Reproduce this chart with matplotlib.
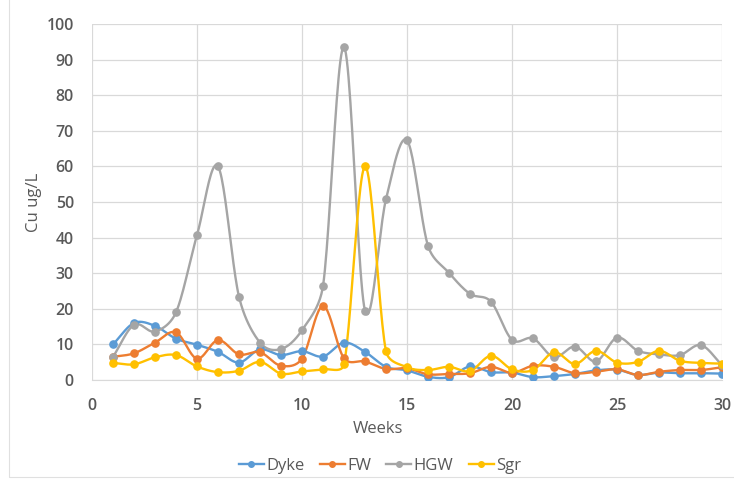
import numpy as np
import matplotlib
matplotlib.use("Agg")
import matplotlib.pyplot as plt
from matplotlib.patches import Rectangle

weeks = list(range(1, 31))
dyke = [10, 16, 15.2, 11.6, 9.9, 7.9, 4.9, 8.6, 7.0, 8.1, 6.6, 10.5, 7.9, 3.7, 2.7, 0.9, 0.8, 3.8, 2.2, 2.1,
        0.8, 1.1, 1.7, 2.7, 2.9, 1.4, 2.1, 1.9, 1.9, 1.8]
fw = [6.5, 7.5, 10.5, 13.4, 6.0, 11.2, 7.2, 7.8, 4.0, 6.0, 20.8, 6.1, 5.2, 3.1, 3.3, 1.6, 1.7, 1.9, 3.7, 2.0,
      4.0, 3.7, 1.9, 2.3, 3.0, 1.4, 2.3, 2.8, 2.8, 3.6]
hgw = [6.5, 15.5, 13.6, 19.0, 40.7, 60.0, 23.4, 10.5, 8.7, 14.0, 26.4, 93.5, 19.5, 50.8, 67.3, 37.7, 30.1, 24.2, 22.0, 11.3,
       11.7, 6.4, 9.4, 5.2, 11.9, 8.2, 7.2, 7.0, 9.8, 4.2]
sgr = [4.8, 4.4, 6.4, 7.0, 3.8, 2.2, 2.6, 5.1, 1.8, 2.4, 3.0, 4.4, 60.0, 8.1, 3.6, 2.8, 3.7, 2.5, 6.8, 3.0,
       2.8, 7.8, 4.5, 8.2, 4.9, 5.1, 8.2, 5.4, 4.8, 4.6]

series = [("Dyke", dyke, "#5B9BD5"), ("FW", fw, "#ED7D31"), ("HGW", hgw, "#A5A5A5"), ("Sgr", sgr, "#FFC000")]

LEFT, RIGHT, TOP, BOTTOM = 92, 722, 24, 380
SX, SY = (RIGHT - LEFT) / 30, (BOTTOM - TOP) / 100


def clamp(v, lim):
    n = np.hypot(*v)
    return v if n <= lim or n == 0 else v * (lim / n)


def smooth(x, y, n=24, k=0.45):
    P = np.column_stack([np.asarray(x, float) * SX, np.asarray(y, float) * SY])
    m = len(P)
    T = np.zeros_like(P)
    for i in range(m):
        if i == 0:
            T[i] = (P[1] - P[0]) / 3
        elif i == m - 1:
            T[i] = (P[-1] - P[-2]) / 3
        else:
            T[i] = (P[i + 1] - P[i - 1]) / 6
    t = np.linspace(0, 1, n)[:, None]
    out = []
    for i in range(m - 1):
        p1, p2 = P[i], P[i + 1]
        L = np.hypot(*(p2 - p1))
        c1 = p1 + clamp(T[i], k * L)
        c2 = p2 - clamp(T[i + 1], k * L)
        b = (1 - t) ** 3 * p1 + 3 * (1 - t) ** 2 * t * c1 + 3 * (1 - t) * t ** 2 * c2 + t ** 3 * p2
        out.append(b if i == 0 else b[1:])
    out = np.vstack(out)
    return out[:, 0] / SX, out[:, 1] / SY


plt.rcParams['font.family'] = ['Open Sans', 'DejaVu Sans']
fig = plt.figure(figsize=(7.34, 4.82), dpi=100)
ax = fig.add_axes([LEFT / 734, 1 - BOTTOM / 482, (RIGHT - LEFT) / 734, (BOTTOM - TOP) / 482])

txt = "#595959"
for name, vals, col in series:
    sx, sy = smooth(weeks, vals)
    ax.plot(sx, sy, color=col, lw=1.7, zorder=3, solid_capstyle="round")
    ax.plot(weeks, vals, 'o', color=col, ms=5.2, zorder=4)

ax.set_xlim(0, 30)
ax.set_ylim(0, 100)
ax.set_xticks(range(0, 31, 5))
ax.set_yticks(range(0, 101, 10))
ax.grid(True, color="#D9D9D9", lw=0.9)
ax.set_axisbelow(True)
for s in ["top", "right", "left"]:
    ax.spines[s].set_visible(False)
ax.spines["bottom"].set_color("#D9D9D9")
ax.tick_params(length=0, labelsize=11.5, colors=txt)
ax.tick_params(axis="x", pad=13)
ax.tick_params(axis="y", pad=13)
for lab in ax.get_xticklabels() + ax.get_yticklabels():
    lab.set_fontweight("semibold")
fig.text(378 / 734, 1 - 429 / 482, "Weeks", fontsize=12, color=txt, ha="center", va="center")
fig.text(34 / 734, 1 - 202 / 482, "Cu ug/L", fontsize=12, color=txt, ha="center", va="center", rotation=90)

handles = [plt.Line2D([], [], color=c, marker='o', ms=4, lw=1.7) for _, _, c in series]
leg = fig.legend(handles, [n for n, _, _ in series], loc="center", bbox_to_anchor=(380 / 734, 1 - 466 / 482),
                 ncol=4, frameon=False, fontsize=12, handlelength=1.5, handletextpad=0.15, columnspacing=0.9,
                 borderpad=0.1)
for t in leg.get_texts():
    t.set_color(txt)

fig.patches.append(Rectangle((9 / 734, 5 / 482), 1.0, 1.0, transform=fig.transFigure,
                             fill=False, edgecolor="#E0E0E0", lw=0.8))

fig.savefig("out.png", dpi=100)
